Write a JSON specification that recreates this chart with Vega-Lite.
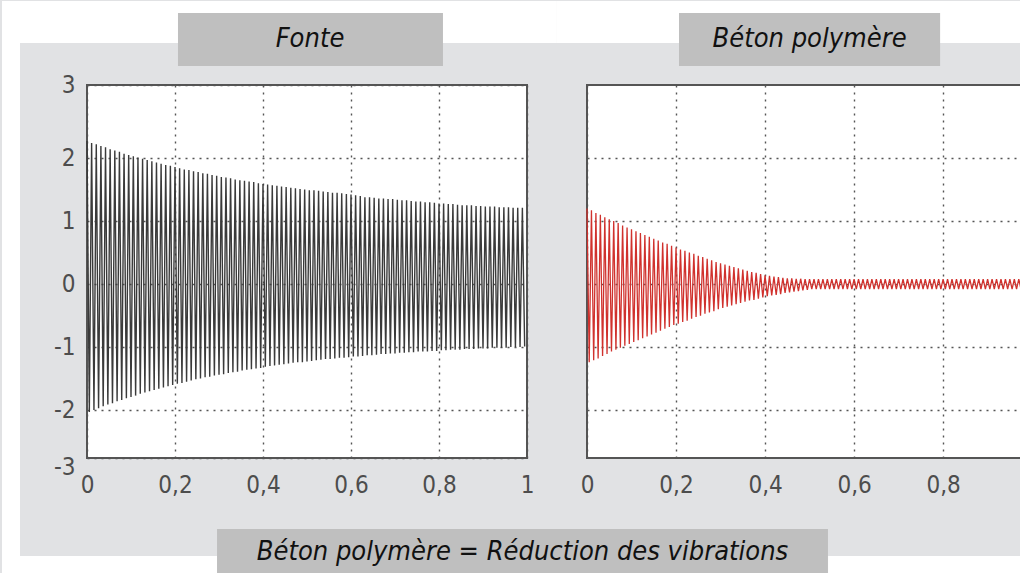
{
  "$schema": "https://vega.github.io/schema/vega-lite/v6.json",
  "background": "#e1e2e4",
  "padding": 0,
  "autosize": {"type": "pad"},
  "bounds": "flush",
  "spacing": 60,
  "config": {
    "view": {"fill": "white", "stroke": "#555555", "strokeWidth": 2},
    "axis": {"grid": true, "gridColor": "#555555", "gridDash": [2, 5], "gridWidth": 1.4, "ticks": false, "domain": false, "labelFont": "DejaVu Sans Condensed, DejaVu Sans", "labelFontSize": 24, "labelColor": "#4d4d4d", "labelFlush": false, "labelOverlap": false}
  },
  "datasets": {
    "fonte": [
      {"t":0,"v":2.27},{"t":0.0053,"v":-2.03},{"t":0.0105,"v":2.24},{"t":0.0158,"v":-2.0},{"t":0.0211,"v":2.22},{"t":0.0263,"v":-1.97},{"t":0.0316,"v":2.19},{"t":0.0368,"v":-1.94},{"t":0.0421,"v":2.17},{"t":0.0474,"v":-1.91},
      {"t":0.0526,"v":2.14},{"t":0.0579,"v":-1.89},{"t":0.0632,"v":2.12},{"t":0.0684,"v":-1.86},{"t":0.0737,"v":2.1},{"t":0.0789,"v":-1.84},{"t":0.0842,"v":2.07},{"t":0.0895,"v":-1.81},{"t":0.0947,"v":2.05},{"t":0.1,"v":-1.79},
      {"t":0.1053,"v":2.03},{"t":0.1105,"v":-1.77},{"t":0.1158,"v":2.01},{"t":0.1211,"v":-1.74},{"t":0.1263,"v":1.99},{"t":0.1316,"v":-1.72},{"t":0.1368,"v":1.97},{"t":0.1421,"v":-1.7},{"t":0.1474,"v":1.95},{"t":0.1526,"v":-1.68},
      {"t":0.1579,"v":1.93},{"t":0.1632,"v":-1.66},{"t":0.1684,"v":1.91},{"t":0.1737,"v":-1.64},{"t":0.1789,"v":1.89},{"t":0.1842,"v":-1.62},{"t":0.1895,"v":1.88},{"t":0.1947,"v":-1.6},{"t":0.2,"v":1.86},{"t":0.2053,"v":-1.58},
      {"t":0.2105,"v":1.84},{"t":0.2158,"v":-1.57},{"t":0.2211,"v":1.82},{"t":0.2263,"v":-1.55},{"t":0.2316,"v":1.81},{"t":0.2368,"v":-1.53},{"t":0.2421,"v":1.79},{"t":0.2474,"v":-1.51},{"t":0.2526,"v":1.78},{"t":0.2579,"v":-1.5},
      {"t":0.2632,"v":1.76},{"t":0.2684,"v":-1.48},{"t":0.2737,"v":1.75},{"t":0.2789,"v":-1.47},{"t":0.2842,"v":1.73},{"t":0.2895,"v":-1.45},{"t":0.2947,"v":1.72},{"t":0.3,"v":-1.44},{"t":0.3053,"v":1.7},{"t":0.3105,"v":-1.43},
      {"t":0.3158,"v":1.69},{"t":0.3211,"v":-1.41},{"t":0.3263,"v":1.68},{"t":0.3316,"v":-1.4},{"t":0.3368,"v":1.66},{"t":0.3421,"v":-1.39},{"t":0.3474,"v":1.65},{"t":0.3526,"v":-1.37},{"t":0.3579,"v":1.64},{"t":0.3632,"v":-1.36},
      {"t":0.3684,"v":1.63},{"t":0.3737,"v":-1.35},{"t":0.3789,"v":1.62},{"t":0.3842,"v":-1.34},{"t":0.3895,"v":1.6},{"t":0.3947,"v":-1.33},{"t":0.4,"v":1.59},{"t":0.4053,"v":-1.31},{"t":0.4105,"v":1.58},{"t":0.4158,"v":-1.3},
      {"t":0.4211,"v":1.57},{"t":0.4263,"v":-1.29},{"t":0.4316,"v":1.56},{"t":0.4368,"v":-1.28},{"t":0.4421,"v":1.55},{"t":0.4474,"v":-1.27},{"t":0.4526,"v":1.54},{"t":0.4579,"v":-1.26},{"t":0.4632,"v":1.53},{"t":0.4684,"v":-1.25},
      {"t":0.4737,"v":1.52},{"t":0.4789,"v":-1.24},{"t":0.4842,"v":1.51},{"t":0.4895,"v":-1.24},{"t":0.4947,"v":1.5},{"t":0.5,"v":-1.23},{"t":0.5053,"v":1.49},{"t":0.5105,"v":-1.22},{"t":0.5158,"v":1.49},{"t":0.5211,"v":-1.21},
      {"t":0.5263,"v":1.48},{"t":0.5316,"v":-1.2},{"t":0.5368,"v":1.47},{"t":0.5421,"v":-1.19},{"t":0.5474,"v":1.46},{"t":0.5526,"v":-1.19},{"t":0.5579,"v":1.45},{"t":0.5632,"v":-1.18},{"t":0.5684,"v":1.45},{"t":0.5737,"v":-1.17},
      {"t":0.5789,"v":1.44},{"t":0.5842,"v":-1.17},{"t":0.5895,"v":1.43},{"t":0.5947,"v":-1.16},{"t":0.6,"v":1.42},{"t":0.6053,"v":-1.15},{"t":0.6105,"v":1.41},{"t":0.6158,"v":-1.15},{"t":0.6211,"v":1.4},{"t":0.6263,"v":-1.14},
      {"t":0.6316,"v":1.38},{"t":0.6368,"v":-1.13},{"t":0.6421,"v":1.38},{"t":0.6474,"v":-1.13},{"t":0.6526,"v":1.37},{"t":0.6579,"v":-1.12},{"t":0.6632,"v":1.36},{"t":0.6684,"v":-1.11},{"t":0.6737,"v":1.36},{"t":0.6789,"v":-1.11},
      {"t":0.6842,"v":1.35},{"t":0.6895,"v":-1.1},{"t":0.6947,"v":1.35},{"t":0.7,"v":-1.1},{"t":0.7053,"v":1.34},{"t":0.7105,"v":-1.09},{"t":0.7158,"v":1.33},{"t":0.7211,"v":-1.09},{"t":0.7263,"v":1.33},{"t":0.7316,"v":-1.08},
      {"t":0.7368,"v":1.32},{"t":0.7421,"v":-1.08},{"t":0.7474,"v":1.31},{"t":0.7526,"v":-1.07},{"t":0.7579,"v":1.31},{"t":0.7632,"v":-1.07},{"t":0.7684,"v":1.3},{"t":0.7737,"v":-1.07},{"t":0.7789,"v":1.3},{"t":0.7842,"v":-1.06},
      {"t":0.7895,"v":1.29},{"t":0.7947,"v":-1.06},{"t":0.8,"v":1.28},{"t":0.8053,"v":-1.05},{"t":0.8105,"v":1.28},{"t":0.8158,"v":-1.05},{"t":0.8211,"v":1.27},{"t":0.8263,"v":-1.04},{"t":0.8316,"v":1.27},{"t":0.8368,"v":-1.04},
      {"t":0.8421,"v":1.26},{"t":0.8474,"v":-1.04},{"t":0.8526,"v":1.25},{"t":0.8579,"v":-1.03},{"t":0.8632,"v":1.25},{"t":0.8684,"v":-1.03},{"t":0.8737,"v":1.25},{"t":0.8789,"v":-1.03},{"t":0.8842,"v":1.24},{"t":0.8895,"v":-1.02},
      {"t":0.8947,"v":1.24},{"t":0.9,"v":-1.02},{"t":0.9053,"v":1.23},{"t":0.9105,"v":-1.02},{"t":0.9158,"v":1.23},{"t":0.9211,"v":-1.01},{"t":0.9263,"v":1.23},{"t":0.9316,"v":-1.01},{"t":0.9368,"v":1.22},{"t":0.9421,"v":-1.01},
      {"t":0.9474,"v":1.22},{"t":0.9526,"v":-1.01},{"t":0.9579,"v":1.22},{"t":0.9632,"v":-1.0},{"t":0.9684,"v":1.21},{"t":0.9737,"v":-1.0},{"t":0.9789,"v":1.21},{"t":0.9842,"v":-1.0},{"t":0.9895,"v":1.21},{"t":0.9947,"v":-0.99}
    ],
    "beton": [
      {"t":0,"v":1.2},{"t":0.005,"v":-1.24},{"t":0.01,"v":1.17},{"t":0.015,"v":-1.21},{"t":0.02,"v":1.13},{"t":0.025,"v":-1.18},{"t":0.03,"v":1.1},{"t":0.035,"v":-1.14},{"t":0.04,"v":1.06},{"t":0.045,"v":-1.11},
      {"t":0.05,"v":1.03},{"t":0.055,"v":-1.07},{"t":0.06,"v":1.0},{"t":0.065,"v":-1.04},{"t":0.07,"v":0.97},{"t":0.075,"v":-1.01},{"t":0.08,"v":0.93},{"t":0.085,"v":-0.98},{"t":0.09,"v":0.9},{"t":0.095,"v":-0.95},
      {"t":0.1,"v":0.87},{"t":0.105,"v":-0.92},{"t":0.11,"v":0.84},{"t":0.115,"v":-0.89},{"t":0.12,"v":0.81},{"t":0.125,"v":-0.86},{"t":0.13,"v":0.78},{"t":0.135,"v":-0.83},{"t":0.14,"v":0.75},{"t":0.145,"v":-0.8},
      {"t":0.15,"v":0.72},{"t":0.155,"v":-0.77},{"t":0.16,"v":0.69},{"t":0.165,"v":-0.74},{"t":0.17,"v":0.66},{"t":0.175,"v":-0.71},{"t":0.18,"v":0.64},{"t":0.185,"v":-0.68},{"t":0.19,"v":0.61},{"t":0.195,"v":-0.65},
      {"t":0.2,"v":0.58},{"t":0.205,"v":-0.63},{"t":0.21,"v":0.55},{"t":0.215,"v":-0.6},{"t":0.22,"v":0.53},{"t":0.225,"v":-0.58},{"t":0.23,"v":0.5},{"t":0.235,"v":-0.55},{"t":0.24,"v":0.48},{"t":0.245,"v":-0.52},
      {"t":0.25,"v":0.45},{"t":0.255,"v":-0.5},{"t":0.26,"v":0.43},{"t":0.265,"v":-0.47},{"t":0.27,"v":0.4},{"t":0.275,"v":-0.45},{"t":0.28,"v":0.38},{"t":0.285,"v":-0.43},{"t":0.29,"v":0.35},{"t":0.295,"v":-0.4},
      {"t":0.3,"v":0.33},{"t":0.305,"v":-0.38},{"t":0.31,"v":0.31},{"t":0.315,"v":-0.36},{"t":0.32,"v":0.29},{"t":0.325,"v":-0.34},{"t":0.33,"v":0.27},{"t":0.335,"v":-0.32},{"t":0.34,"v":0.25},{"t":0.345,"v":-0.3},
      {"t":0.35,"v":0.23},{"t":0.355,"v":-0.28},{"t":0.36,"v":0.21},{"t":0.365,"v":-0.26},{"t":0.37,"v":0.19},{"t":0.375,"v":-0.25},{"t":0.38,"v":0.18},{"t":0.385,"v":-0.23},{"t":0.39,"v":0.16},{"t":0.395,"v":-0.21},
      {"t":0.4,"v":0.14},{"t":0.405,"v":-0.19},{"t":0.41,"v":0.13},{"t":0.415,"v":-0.18},{"t":0.42,"v":0.12},{"t":0.425,"v":-0.17},{"t":0.43,"v":0.11},{"t":0.435,"v":-0.16},{"t":0.44,"v":0.1},{"t":0.445,"v":-0.14},
      {"t":0.45,"v":0.09},{"t":0.455,"v":-0.13},{"t":0.46,"v":0.09},{"t":0.465,"v":-0.12},{"t":0.47,"v":0.085},{"t":0.475,"v":-0.11},{"t":0.48,"v":0.085},{"t":0.485,"v":-0.1},{"t":0.49,"v":0.08},{"t":0.495,"v":-0.09},
      {"t":0.5,"v":0.08},{"t":0.505,"v":-0.08},{"t":0.51,"v":0.08},{"t":0.515,"v":-0.08},{"t":0.52,"v":0.08},{"t":0.525,"v":-0.08},{"t":0.53,"v":0.08},{"t":0.535,"v":-0.08},{"t":0.54,"v":0.08},{"t":0.545,"v":-0.08},
      {"t":0.55,"v":0.08},{"t":0.555,"v":-0.08},{"t":0.56,"v":0.08},{"t":0.565,"v":-0.08},{"t":0.57,"v":0.08},{"t":0.575,"v":-0.08},{"t":0.58,"v":0.08},{"t":0.585,"v":-0.08},{"t":0.59,"v":0.08},{"t":0.595,"v":-0.08},
      {"t":0.6,"v":0.08},{"t":0.605,"v":-0.08},{"t":0.61,"v":0.08},{"t":0.615,"v":-0.08},{"t":0.62,"v":0.08},{"t":0.625,"v":-0.08},{"t":0.63,"v":0.08},{"t":0.635,"v":-0.08},{"t":0.64,"v":0.08},{"t":0.645,"v":-0.08},
      {"t":0.65,"v":0.08},{"t":0.655,"v":-0.08},{"t":0.66,"v":0.08},{"t":0.665,"v":-0.08},{"t":0.67,"v":0.08},{"t":0.675,"v":-0.08},{"t":0.68,"v":0.08},{"t":0.685,"v":-0.08},{"t":0.69,"v":0.08},{"t":0.695,"v":-0.08},
      {"t":0.7,"v":0.08},{"t":0.705,"v":-0.08},{"t":0.71,"v":0.08},{"t":0.715,"v":-0.08},{"t":0.72,"v":0.08},{"t":0.725,"v":-0.08},{"t":0.73,"v":0.08},{"t":0.735,"v":-0.08},{"t":0.74,"v":0.08},{"t":0.745,"v":-0.08},
      {"t":0.75,"v":0.08},{"t":0.755,"v":-0.08},{"t":0.76,"v":0.08},{"t":0.765,"v":-0.08},{"t":0.77,"v":0.08},{"t":0.775,"v":-0.08},{"t":0.78,"v":0.08},{"t":0.785,"v":-0.08},{"t":0.79,"v":0.08},{"t":0.795,"v":-0.08},
      {"t":0.8,"v":0.08},{"t":0.805,"v":-0.08},{"t":0.81,"v":0.08},{"t":0.815,"v":-0.08},{"t":0.82,"v":0.08},{"t":0.825,"v":-0.08},{"t":0.83,"v":0.08},{"t":0.835,"v":-0.08},{"t":0.84,"v":0.08},{"t":0.845,"v":-0.08},
      {"t":0.85,"v":0.08},{"t":0.855,"v":-0.08},{"t":0.86,"v":0.08},{"t":0.865,"v":-0.08},{"t":0.87,"v":0.08},{"t":0.875,"v":-0.08},{"t":0.88,"v":0.08},{"t":0.885,"v":-0.08},{"t":0.89,"v":0.08},{"t":0.895,"v":-0.08},
      {"t":0.9,"v":0.08},{"t":0.905,"v":-0.08},{"t":0.91,"v":0.08},{"t":0.915,"v":-0.08},{"t":0.92,"v":0.08},{"t":0.925,"v":-0.08},{"t":0.93,"v":0.08},{"t":0.935,"v":-0.08},{"t":0.94,"v":0.08},{"t":0.945,"v":-0.08},
      {"t":0.95,"v":0.08},{"t":0.955,"v":-0.08},{"t":0.96,"v":0.08},{"t":0.965,"v":-0.08},{"t":0.97,"v":0.08},{"t":0.975,"v":-0.08}
    ]
  },
  "hconcat": [
    {
      "width": 440,
      "height": 373,
      "layer": [
        {
          "data": {"name": "fonte"},
          "mark": {"type": "line", "color": "#3a3a3a", "strokeWidth": 1.4},
          "encoding": {
            "x": {"field": "t", "type": "quantitative", "scale": {"domain": [0, 1], "nice": false, "zero": false},
                  "axis": {"values": [0, 0.2, 0.4, 0.6, 0.8, 1], "labelExpr": "replace(format(datum.value, '.1~f'), '.', ',')", "labelPadding": 15, "title": null}},
            "y": {"field": "v", "type": "quantitative", "scale": {"domain": [-2.76, 3.16], "nice": false, "zero": false},
                  "axis": {"values": [-2.76, -2, -1, 0, 1, 2, 3.16], "labelExpr": "datum.value > 2.5 ? '3' : datum.value < -2.5 ? '-3' : '' + datum.value", "labelPadding": 12, "labelOffset": {"condition": {"test": "datum.value < -2.5", "value": 9}, "value": 0}, "title": null}}
          }
        },
        {
          "data": {"values": [{}]},
          "mark": {"type": "rect", "color": "white"},
          "encoding": {"x": {"datum": -0.1932, "type": "quantitative"}, "x2": {"datum": 1.068}, "y": {"datum": 4.493, "type": "quantitative"}, "y2": {"datum": 3.827}}
        },
        {
          "data": {"values": [{}]},
          "mark": {"type": "rect", "color": "white"},
          "encoding": {"x": {"datum": -0.1932, "type": "quantitative"}, "x2": {"datum": -0.1523}, "y": {"datum": 4.493, "type": "quantitative"}, "y2": {"datum": -4.602}}
        },
        {
          "data": {"values": [{}]},
          "mark": {"type": "rect", "color": "white"},
          "encoding": {"x": {"datum": -0.1932, "type": "quantitative"}, "x2": {"datum": 1.684}, "y": {"datum": -4.316, "type": "quantitative"}, "y2": {"datum": -4.602}}
        },
        {
          "data": {"values": [{}]},
          "mark": {"type": "rect", "color": "#bfbfbf"},
          "encoding": {"x": {"datum": 0.2955, "type": "quantitative"}, "x2": {"datum": 1.684}, "y": {"datum": -3.888, "type": "quantitative"}, "y2": {"datum": -4.602}}
        },
        {
          "data": {"values": [{}]},
          "mark": {"type": "text", "font": "DejaVu Sans Condensed, DejaVu Sans", "fontSize": 27, "fontStyle": "italic", "color": "#111111", "align": "center", "baseline": "middle"},
          "encoding": {"x": {"datum": 0.9898, "type": "quantitative"}, "y": {"datum": -4.253, "type": "quantitative"}, "text": {"value": "Béton polymère = Réduction des vibrations"}}
        },
        {
          "data": {"values": [{}]},
          "mark": {"type": "rect", "color": "#bfbfbf"},
          "encoding": {"x": {"datum": 0.2068, "type": "quantitative"}, "x2": {"datum": 0.809}, "y": {"datum": 4.303, "type": "quantitative"}, "y2": {"datum": 3.462}}
        },
        {
          "data": {"values": [{}]},
          "mark": {"type": "text", "font": "DejaVu Sans Condensed, DejaVu Sans", "fontSize": 27, "fontStyle": "italic", "color": "#111111", "align": "center", "baseline": "middle"},
          "encoding": {"x": {"datum": 0.5068, "type": "quantitative"}, "y": {"datum": 3.89, "type": "quantitative"}, "text": {"value": "Fonte"}}
        }
      ]
    },
    {
      "width": 434,
      "height": 373,
      "layer": [
        {
          "data": {"name": "beton"},
          "mark": {"type": "line", "color": "#d0312d", "strokeWidth": 1.3},
          "encoding": {
            "x": {"field": "t", "type": "quantitative", "scale": {"domain": [0, 0.975], "nice": false, "zero": false},
                  "axis": {"values": [0, 0.2, 0.4, 0.6, 0.8], "labelExpr": "replace(format(datum.value, '.1~f'), '.', ',')", "labelPadding": 15, "title": null}},
            "y": {"field": "v", "type": "quantitative", "scale": {"domain": [-2.76, 3.16], "nice": false, "zero": false},
                  "axis": {"values": [-2, -1, 0, 1, 2], "labels": false, "title": null}}
          }
        },
        {
          "data": {"values": [{}]},
          "mark": {"type": "rect", "color": "white"},
          "encoding": {"x": {"datum": -0.0674, "type": "quantitative"}, "x2": {"datum": 0.977}, "y": {"datum": 4.493, "type": "quantitative"}, "y2": {"datum": 3.827}}
        },
        {
          "data": {"values": [{}]},
          "mark": {"type": "rect", "color": "white"},
          "encoding": {"x": {"datum": 0.5416, "type": "quantitative"}, "x2": {"datum": 0.977}, "y": {"datum": -4.316, "type": "quantitative"}, "y2": {"datum": -4.602}}
        },
        {
          "data": {"values": [{}]},
          "mark": {"type": "rect", "color": "#bfbfbf"},
          "encoding": {"x": {"datum": 0.2067, "type": "quantitative"}, "x2": {"datum": 0.7933}, "y": {"datum": 4.303, "type": "quantitative"}, "y2": {"datum": 3.462}}
        },
        {
          "data": {"values": [{}]},
          "mark": {"type": "text", "font": "DejaVu Sans Condensed, DejaVu Sans", "fontSize": 27, "fontStyle": "italic", "color": "#111111", "align": "center", "baseline": "middle"},
          "encoding": {"x": {"datum": 0.5, "type": "quantitative"}, "y": {"datum": 3.89, "type": "quantitative"}, "text": {"value": "Béton polymère"}}
        }
      ]
    }
  ]
}
